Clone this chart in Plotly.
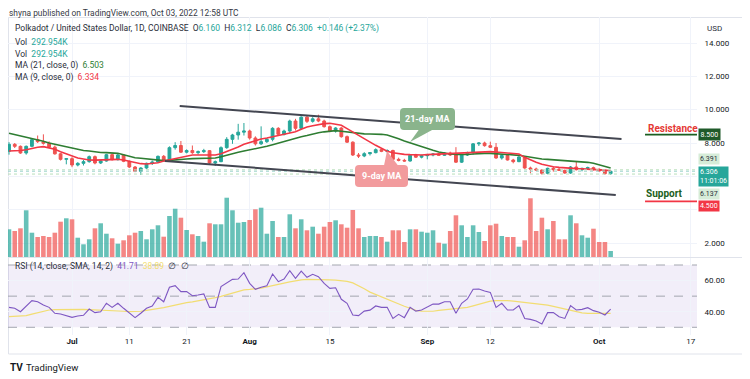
import plotly.graph_objects as go
import pandas as pd

# ---------------- data ----------------
dates = pd.date_range("2022-06-20", periods=106, freq="D")

opens = [7.50,7.92,7.80,7.40,7.80,8.20,8.08,7.98,7.75,7.35,
         7.02,7.06,6.68,6.78,6.88,7.18,6.80,6.92,7.30,7.00,
         7.28,6.90,6.56,6.30,6.50,6.78,6.86,7.20,6.95,7.72,
         7.85,7.45,7.55,7.42,7.48,7.54,6.80,6.88,7.72,8.22,
         8.48,8.65,8.72,8.30,7.95,8.08,8.22,8.88,8.52,8.72,
         9.32,8.88,9.55,9.30,9.45,9.32,8.98,8.72,8.90,8.38,
         8.05,7.28,7.22,7.36,7.42,7.60,7.50,7.55,7.02,6.96,
         6.92,7.26,7.15,7.24,7.28,7.34,7.26,7.40,7.28,6.85,
         7.28,7.42,7.95,8.00,7.84,7.74,7.10,7.25,6.98,6.88,
         7.16,6.50,6.44,6.38,6.18,6.48,6.42,6.36,6.20,6.56,
         6.40,6.48,6.52,6.42,6.32,6.160]
highs = [8.05,8.00,7.85,7.85,8.30,8.45,8.52,8.10,7.85,7.40,
         7.10,7.15,6.85,6.98,7.25,7.25,7.00,7.35,7.38,7.35,
         7.32,6.95,6.62,6.55,6.82,6.95,7.25,7.28,7.80,8.05,
         8.12,7.62,7.85,7.55,7.65,7.58,6.95,7.80,8.35,8.55,
         9.15,9.20,8.80,8.40,9.00,8.30,8.95,8.95,8.80,9.40,
         9.45,9.60,9.65,9.55,9.70,9.40,9.05,8.95,8.95,8.45,
         8.10,7.40,7.45,7.45,7.68,7.65,7.62,7.60,7.12,7.05,
         7.32,7.35,7.30,7.35,7.40,7.40,7.45,7.48,7.75,7.32,
         7.48,8.00,8.05,8.08,8.08,8.00,7.30,7.30,7.05,7.20,
         7.20,6.58,6.52,6.42,6.52,6.58,6.55,6.40,6.62,6.92,
         6.52,6.58,6.58,6.48,6.36,6.312]
lows = [7.30,7.70,7.35,7.30,7.75,8.00,7.90,7.70,7.30,6.95,
        6.72,6.55,6.60,6.65,6.82,6.72,6.74,6.88,6.95,6.95,
        6.85,6.50,6.25,6.08,6.45,6.68,6.80,6.90,6.90,7.60,
        7.40,7.38,7.35,7.30,7.40,6.70,6.62,6.85,7.65,7.95,
        8.20,8.45,8.20,7.85,7.88,8.00,8.10,8.45,8.45,8.60,
        8.75,8.80,9.20,9.22,9.25,8.92,8.65,8.62,8.32,8.00,
        7.22,7.10,7.15,7.25,7.38,7.45,7.42,6.95,6.90,6.88,
        6.88,7.10,7.08,7.02,7.20,7.22,7.22,7.22,6.80,6.80,
        7.22,7.30,7.82,7.78,7.70,7.05,7.00,6.95,6.78,6.85,
        6.45,6.18,6.32,6.10,6.12,6.28,6.32,6.15,6.15,6.35,
        6.30,6.40,6.35,6.28,6.10,6.086]
closes = [7.92,7.80,7.40,7.80,8.20,8.08,7.98,7.75,7.35,7.02,
          7.06,6.68,6.78,6.88,7.18,6.80,6.92,7.30,7.00,7.28,
          6.90,6.56,6.30,6.50,6.78,6.86,7.20,6.95,7.72,7.85,
          7.45,7.55,7.42,7.48,7.54,6.80,6.88,7.72,8.22,8.48,
          8.65,8.72,8.30,7.95,8.08,8.22,8.88,8.52,8.72,9.32,
          8.88,9.55,9.30,9.45,9.32,8.98,8.72,8.90,8.38,8.05,
          7.28,7.22,7.36,7.42,7.60,7.50,7.55,7.02,6.96,6.92,
          7.26,7.15,7.24,7.28,7.34,7.26,7.40,7.28,6.85,7.28,
          7.42,7.95,8.00,7.84,7.74,7.10,7.25,6.98,6.88,7.16,
          6.50,6.44,6.38,6.18,6.48,6.40,6.36,6.20,6.56,6.40,
          6.48,6.52,6.42,6.32,6.16,6.306]
volume_k = [1352,1269,1400,2279,1186,976,1025,976,1186,1723,
            1889,1840,942,620,864,1400,1645,1137,913,649,
            815,1059,1186,1269,864,1352,1547,991,2001,2357,
            1918,1318,1108,1025,747,1645,1596,1596,2894,2279,
            1674,1708,1806,2328,2406,1137,1757,976,976,2084,
            1400,1840,1303,1479,1137,1479,1708,1791,1596,1430,
            2294,1400,976,1025,1025,976,747,1303,1303,732,
            1352,1352,1235,1186,1303,698,649,1269,2035,1547,
            976,1547,1220,781,1547,1625,1025,976,976,503,
            815,2865,1269,1918,1352,1757,864,864,2035,1645,
            1059,942,1381,732,732,292.954]
ma21 = [8.58,8.50,8.44,8.37,8.26,8.18,8.10,8.00,7.92,7.84,
        7.76,7.68,7.60,7.55,7.52,7.47,7.43,7.42,7.41,7.38,
        7.30,7.20,7.12,7.08,7.05,7.02,6.98,6.94,6.96,7.00,
        7.02,7.04,7.06,7.07,7.08,7.08,7.10,7.18,7.28,7.36,
        7.45,7.52,7.58,7.64,7.72,7.80,7.90,8.00,8.08,8.18,
        8.28,8.38,8.45,8.55,8.62,8.67,8.71,8.74,8.70,8.66,
        8.60,8.57,8.55,8.54,8.55,8.52,8.48,8.38,8.26,8.12,
        8.00,7.90,7.78,7.66,7.56,7.46,7.38,7.34,7.31,7.30,
        7.31,7.34,7.37,7.38,7.38,7.36,7.34,7.32,7.30,7.26,
        7.20,7.14,7.08,7.04,7.02,7.00,6.98,6.96,6.94,6.92,
        6.88,6.84,6.78,6.70,6.60,6.503]
ma9 = [7.52,7.52,7.55,7.60,7.68,7.74,7.78,7.72,7.62,7.48,
       7.36,7.20,7.10,7.04,6.98,6.97,6.98,7.02,7.04,7.02,
       6.98,6.90,6.80,6.76,6.74,6.76,6.82,6.92,7.00,7.08,
       7.16,7.24,7.28,7.28,7.28,7.26,7.28,7.36,7.48,7.60,
       7.76,7.92,8.04,8.14,8.24,8.30,8.38,8.46,8.55,8.62,
       8.68,8.82,8.96,9.04,9.12,9.16,9.18,9.14,9.06,8.86,
       8.66,8.44,8.22,8.04,7.86,7.68,7.50,7.42,7.36,7.32,
       7.30,7.28,7.28,7.30,7.32,7.34,7.36,7.38,7.40,7.42,
       7.42,7.44,7.46,7.48,7.48,7.46,7.44,7.42,7.40,7.34,
       7.14,6.98,6.84,6.72,6.64,6.58,6.54,6.50,6.48,6.46,
       6.45,6.44,6.43,6.40,6.37,6.334]
rsi = [42.8,42.2,40.0,43.7,47.1,46.4,44.3,42.8,39.0,38.5,
       37.2,36.4,37.2,37.7,41.7,39.4,40.0,45.4,42.8,45.4,
       42.2,39.0,36.2,39.0,42.2,43.7,49.2,46.4,55.7,56.7,
       52.9,52.9,50.3,50.7,51.4,42.8,42.8,56.1,58.2,60.8,
       61.0,65.1,58.2,54.4,55.7,56.7,64.2,59.3,61.0,66.4,
       61.4,66.1,62.1,64.0,62.5,58.2,55.0,55.4,48.0,45.4,
       37.9,37.5,40.4,41.0,43.7,42.8,42.8,35.7,38.3,36.2,
       42.8,40.4,41.1,42.8,44.9,44.9,46.4,46.4,39.0,45.4,
       48.2,54.4,54.6,53.3,52.4,42.8,45.4,41.1,41.1,43.9,
       35.7,35.1,34.0,32.1,39.4,39.4,36.8,35.7,43.9,41.1,
       41.5,42.6,40.7,39.6,37.9,41.71]
rsi_ma = [36.8,37.0,37.2,37.5,38.5,39.4,40.3,41.1,41.3,41.4,
          41.5,41.5,41.5,41.5,41.4,41.3,41.1,40.9,40.8,40.6,
          40.3,40.1,40.0,40.3,40.9,41.4,42.0,42.6,43.4,44.3,
          45.2,45.8,46.3,46.9,47.7,48.4,49.1,49.9,50.9,51.8,
          53.0,54.0,54.3,54.6,55.2,55.9,56.6,57.5,58.4,59.2,
          59.9,60.4,60.8,60.8,60.8,60.7,60.5,60.3,60.0,59.5,
          58.5,56.8,54.8,52.6,51.0,49.6,48.0,46.5,45.0,43.5,
          42.2,40.9,40.3,40.1,40.3,40.9,41.3,41.7,42.0,42.3,
          42.8,43.8,44.9,45.9,46.8,47.1,47.2,47.1,46.8,46.4,
          46.0,45.6,45.2,44.8,44.2,43.4,42.6,41.6,40.6,39.8,
          39.3,39.0,38.9,38.9,38.9,38.89]

tick_dates = ["2022-07-01", "2022-07-11", "2022-07-21", "2022-08-01", "2022-08-15",
              "2022-09-01", "2022-09-12", "2022-10-01", "2022-10-17"]
tick_text = ["<b>Jul</b>", "11", "21", "<b>Aug</b>", "15", "<b>Sep</b>", "12", "<b>Oct</b>", "17"]
price_ticks = [2, 4, 6, 8, 10, 12, 14]
hidden_price_ticks = [4, 6]   # covered by the level boxes in the reference
rsi_ticks = [40, 60]

upper_trend_x = ["2022-07-19 19:00", "2022-10-04 21:30"]
upper_trend_y = [10.22, 8.24]
lower_trend_x = ["2022-07-17 05:00", "2022-10-03 21:30"]
lower_trend_y = [6.92, 4.88]
resistance = 8.5
support = 4.5
level_start = "2022-10-09"
bid_price = 6.391
ask_price = 6.137

# ---------------- styling ----------------
UP = "#26a69a"
DN = "#ef5350"
MA21_C = "#2e7d32"
MA9_C = "#f23645"
RSI_C = "#7e57c2"
RSIMA_C = "#f2dd72"
TXT = "#2a2e39"
GRID = "#f0f3fa"
FONT = "Roboto"

# the page body adds an 8px offset; coordinates below are window pixels
OFF = 8
FIG_W, FIG_H = 750 - OFF, 379 - OFF
L_PX, R_PX, T_PX, B_PX = 8, 697, 17, 335


def px(x):
    return (x - L_PX) / (R_PX - L_PX)


def py(y):
    return (B_PX - y) / (B_PX - T_PX)


def rrect(x0, y0, x1, y1, r):
    return (f"M {px(x0 + r)},{py(y0)} L {px(x1 - r)},{py(y0)} "
            f"Q {px(x1)},{py(y0)} {px(x1)},{py(y0 + r)} L {px(x1)},{py(y1 - r)} "
            f"Q {px(x1)},{py(y1)} {px(x1 - r)},{py(y1)} L {px(x0 + r)},{py(y1)} "
            f"Q {px(x0)},{py(y1)} {px(x0)},{py(y1 - r)} L {px(x0)},{py(y0 + r)} "
            f"Q {px(x0)},{py(y0)} {px(x0 + r)},{py(y0)} Z")


def tri(a, b, c):
    return (f"M {px(a[0])},{py(a[1])} L {px(b[0])},{py(b[1])} "
            f"L {px(c[0])},{py(c[1])} Z")


t0 = dates[0]
x_start = t0 - pd.Timedelta(days=(9 - L_PX) / 5.73)
x_end = t0 + pd.Timedelta(days=(R_PX - 9) / 5.73)

vol_colors = ["rgba(38,166,154,0.7)" if c >= o else "rgba(239,83,80,0.7)"
              for o, c in zip(opens, closes)]

fig = go.Figure()
fig.add_trace(go.Bar(x=dates, y=volume_k, marker=dict(color=vol_colors, line=dict(width=0)),
                     xaxis="x", yaxis="y", showlegend=False, hoverinfo="skip"))
fig.add_trace(go.Candlestick(x=dates, open=opens, high=highs, low=lows, close=closes,
                             xaxis="x", yaxis="y3", whiskerwidth=0,
                             increasing=dict(line=dict(color=UP, width=1), fillcolor=UP),
                             decreasing=dict(line=dict(color=DN, width=1), fillcolor=DN),
                             showlegend=False))
fig.add_trace(go.Scatter(x=dates, y=ma21, mode="lines", line=dict(color=MA21_C, width=1.6),
                         xaxis="x", yaxis="y3", showlegend=False))
fig.add_trace(go.Scatter(x=dates, y=ma9, mode="lines", line=dict(color=MA9_C, width=1.6),
                         xaxis="x", yaxis="y3", showlegend=False))
fig.add_trace(go.Scatter(x=dates, y=rsi_ma, mode="lines", line=dict(color=RSIMA_C, width=1.2),
                         xaxis="x2", yaxis="y2", showlegend=False))
fig.add_trace(go.Scatter(x=dates, y=rsi, mode="lines", line=dict(color=RSI_C, width=1.1),
                         xaxis="x2", yaxis="y2", showlegend=False))

shapes = []
# frame and pane separator
shapes.append(dict(type="rect", xref="paper", yref="paper", x0=px(8.5), x1=px(743),
                   y0=py(354), y1=py(17.5), line=dict(color="#e0e3eb", width=1), layer="below"))
shapes.append(dict(type="line", xref="paper", yref="paper", x0=px(8.5), x1=px(743),
                   y0=py(257.5), y1=py(257.5), line=dict(color="#e0e3eb", width=1)))
# RSI band
shapes.append(dict(type="rect", xref="paper", yref="y2", x0=0, x1=1, y0=30, y1=70,
                   fillcolor="rgba(126,87,194,0.1)", line=dict(width=0), layer="below"))
for lvl in (70, 50, 30):
    shapes.append(dict(type="line", xref="paper", yref="y2", x0=0, x1=1, y0=lvl, y1=lvl,
                       line=dict(color="#a3a6af", width=1, dash="dash"), layer="below"))
# price lines
shapes.append(dict(type="line", xref="paper", yref="y3", x0=0, x1=1, y0=bid_price, y1=bid_price,
                   line=dict(color="#b9dfbb", width=1, dash="dot")))
shapes.append(dict(type="line", xref="paper", yref="y3", x0=0, x1=1, y0=ask_price, y1=ask_price,
                   line=dict(color="#b9dfbb", width=1, dash="dot")))
shapes.append(dict(type="line", xref="paper", yref="y3", x0=0, x1=1, y0=closes[-1], y1=closes[-1],
                   line=dict(color="#9fd3cd", width=1, dash="dot")))
# trend channel
shapes.append(dict(type="line", xref="x", yref="y3", x0=upper_trend_x[0], x1=upper_trend_x[1],
                   y0=upper_trend_y[0], y1=upper_trend_y[1], line=dict(color="#434651", width=2)))
shapes.append(dict(type="line", xref="x", yref="y3", x0=lower_trend_x[0], x1=lower_trend_x[1],
                   y0=lower_trend_y[0], y1=lower_trend_y[1], line=dict(color="#434651", width=2)))
# resistance / support levels
shapes.append(dict(type="line", xref="x", yref="y3", x0=level_start, x1=x_end,
                   y0=resistance, y1=resistance, line=dict(color="#1b5e20", width=1.6)))
shapes.append(dict(type="line", xref="x", yref="y3", x0=level_start, x1=x_end,
                   y0=support, y1=support, line=dict(color="#f23645", width=1.6)))
# callouts
G_CALL = "#8ab48c"
R_CALL = "#f29b9d"
shapes.append(dict(type="path", xref="paper", yref="paper", path=rrect(400, 108, 455, 130, 4),
                   fillcolor=G_CALL, line=dict(width=0)))
shapes.append(dict(type="path", xref="paper", yref="paper",
                   path=tri((419, 129.5), (433, 129.5), (410, 142)),
                   fillcolor=G_CALL, line=dict(width=0)))
shapes.append(dict(type="path", xref="paper", yref="paper", path=rrect(355, 165, 408, 187, 4),
                   fillcolor=R_CALL, line=dict(width=0)))
shapes.append(dict(type="path", xref="paper", yref="paper",
                   path=tri((384, 165.5), (398, 165.5), (387, 151)),
                   fillcolor=R_CALL, line=dict(width=0)))

ann = []


def text(x, y, s, size=8.5, color=TXT, anchor="left", bg=None, pad=0, valign="middle"):
    d = dict(xref="paper", yref="paper", x=px(x), y=py(y), text=s, showarrow=False,
             xanchor=anchor, yanchor=valign, font=dict(family=FONT, size=size, color=color),
             align="left")
    if bg:
        d["bgcolor"] = bg
        d["borderpad"] = pad
    ann.append(d)


def col(s, c):
    return f"<span style='color:{c}'>{s}</span>"


sp = "\u00a0\u00a0"
chg = closes[-1] - opens[-1]
pct = chg / opens[-1] * 100
text(7, 13, "shyna published on TradingView.com, Oct 03, 2022 12:58 UTC", size=8.4, color="#363a45")
text(13, 29, "Polkadot / United States Dollar, 1D, COINBASE" + sp +
     "O" + col(f"{opens[-1]:.3f}", UP) + sp + "H" + col(f"{highs[-1]:.3f}", UP) + sp +
     "L" + col(f"{lows[-1]:.3f}", UP) + sp + "C" + col(f"{closes[-1]:.3f}", UP) + sp +
     col(f"+{chg:.3f} (+{pct:.2f}%)", UP), size=8.5)
text(13, 41.5, "Vol" + sp + col(f"{volume_k[-1]:.3f}K", UP), size=8.5)
text(13, 53.5, "Vol" + sp + col(f"{volume_k[-1]:.3f}K", UP), size=8.5)
text(13, 65.7, "MA (21, close, 0)" + sp + col(f"{ma21[-1]:.3f}", MA21_C), size=8.5)
text(13, 78, "MA (9, close, 0)" + sp + col(f"{ma9[-1]:.3f}", MA9_C), size=8.5)
text(13, 266.7, "RSI (14, close, SMA, 14, 2)" + sp + col(f"{rsi[-1]:.2f}", RSI_C) + sp +
     col(f"{rsi_ma[-1]:.2f}", RSIMA_C) + sp + "\u2205" + sp + "\u2205", size=8.5)
text(705, 28, "USD", size=8)

# callout labels
text(427.5, 119, "<b>21-day MA</b>", size=9, color="white", anchor="center")
text(381.5, 176, "<b>9-day MA</b>", size=9, color="white", anchor="center")
text(673, 128, "<b>Resistance</b>", size=10, color="#e53935", anchor="center")
text(664, 193, "<b>Support</b>", size=10, color="#1b5e20", anchor="center")

# right-side price boxes
text(698, 134.5, f"{resistance:.3f}", size=7, color="white", bg="#1f5a2a", pad=1.5)
text(698, 158.5, f"{bid_price:.3f}", size=7, color=TXT, bg="#d6ecd8", pad=1)
text(698, 176, f"{closes[-1]:.3f}<br>11:01:06", size=7, color="white", bg=UP, pad=1)
text(698, 193.5, f"{ask_price:.3f}", size=7, color=TXT, bg="#d6ecd8", pad=1)
text(698, 206.5, f"{support:.3f}", size=7, color="white", bg="#f23645", pad=1)

# footer logo
text(8, 367, "<b>TV</b>", size=10, color="#131722")
text(24, 367, "TradingView", size=9.5, color="#131722")

fig.update_layout(
    width=FIG_W, height=FIG_H,
    margin=dict(l=L_PX - OFF, r=750 - R_PX, t=T_PX - OFF, b=379 - B_PX, pad=0),
    paper_bgcolor="white", plot_bgcolor="white",
    font=dict(family=FONT, size=8, color=TXT),
    bargap=0.2, showlegend=False, hovermode=False,
    shapes=shapes, annotations=ann,
    xaxis=dict(domain=[0, 1], anchor="y", range=[x_start, x_end], type="date",
               tickvals=tick_dates, showticklabels=False, showgrid=True, gridcolor=GRID,
               zeroline=False, rangeslider=dict(visible=False), showline=False),
    xaxis2=dict(domain=[0, 1], anchor="y2", matches="x", type="date", tickvals=tick_dates,
                ticktext=tick_text, showgrid=True, gridcolor=GRID, zeroline=False,
                tickfont=dict(family=FONT, size=8, color="#131722"), ticks="", showline=False),
    yaxis=dict(domain=[(B_PX - 257) / (B_PX - T_PX), 1], range=[0, 11712], visible=False,
               showgrid=False, fixedrange=True),
    yaxis3=dict(overlaying="y", anchor="x", side="right", range=[1.16, 15.56],
                tickvals=price_ticks,
                ticktext=["" if v in hidden_price_ticks else f"{v:.3f}" for v in price_ticks],
                showgrid=True, gridcolor=GRID, zeroline=False, ticks="outside", ticklen=5,
                tickcolor="rgba(0,0,0,0)", tickfont=dict(family=FONT, size=8, color="#131722")),
    yaxis2=dict(domain=[0, (B_PX - 258) / (B_PX - T_PX)], anchor="x2", side="right",
                range=[25.05, 74.5], tickvals=rsi_ticks, ticktext=[f"{v:.2f}" for v in rsi_ticks],
                showgrid=True, gridcolor=GRID, zeroline=False, ticks="outside", ticklen=5,
                tickcolor="rgba(0,0,0,0)", tickfont=dict(family=FONT, size=8, color="#131722")),
)

fig.write_html("out.html")
